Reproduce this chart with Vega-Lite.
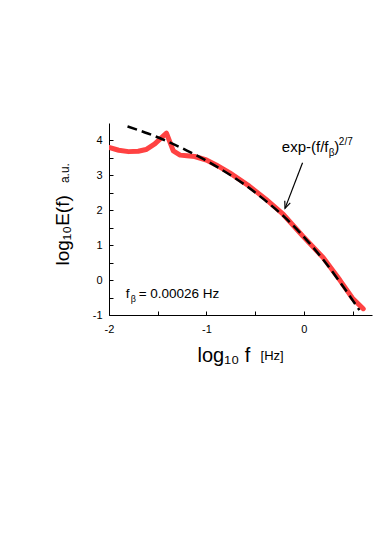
{
  "$schema": "https://vega.github.io/schema/vega-lite/v6.json",
  "width": 263,
  "height": 192,
  "autosize": "none",
  "padding": {"left": 109, "top": 123, "right": 14, "bottom": 239},
  "background": "white",
  "config": {
    "font": "Liberation Sans",
    "view": {"stroke": null},
    "axis": {
      "grid": false,
      "domainColor": "black",
      "domainWidth": 1,
      "tickColor": "black",
      "tickWidth": 1,
      "tickSize": -4,
      "labelColor": "black",
      "labelFontSize": 11,
      "labelFont": "Liberation Sans",
      "labelOverlap": false,
      "labelFlush": false,
      "titleColor": "black",
      "titleFont": "Liberation Sans",
      "titleFontWeight": "normal"
    }
  },
  "datasets": {
    "spectrum": [
      {"x": -2.0, "y": 3.80},
      {"x": -1.9, "y": 3.72},
      {"x": -1.8, "y": 3.68},
      {"x": -1.7, "y": 3.69},
      {"x": -1.62, "y": 3.74},
      {"x": -1.53, "y": 3.90},
      {"x": -1.41, "y": 4.21},
      {"x": -1.34, "y": 3.70},
      {"x": -1.27, "y": 3.58},
      {"x": -1.2, "y": 3.56},
      {"x": -1.12, "y": 3.54},
      {"x": -1.0, "y": 3.44},
      {"x": -0.9, "y": 3.30},
      {"x": -0.76, "y": 3.07},
      {"x": -0.56, "y": 2.69},
      {"x": -0.39, "y": 2.32},
      {"x": -0.21, "y": 1.88},
      {"x": -0.01, "y": 1.26},
      {"x": 0.2, "y": 0.64},
      {"x": 0.37, "y": 0.0},
      {"x": 0.5, "y": -0.52},
      {"x": 0.61, "y": -0.82}
    ],
    "fit": [
      {"x": -1.81, "y": 4.40},
      {"x": -1.6, "y": 4.20},
      {"x": -1.4, "y": 3.97},
      {"x": -1.2, "y": 3.71},
      {"x": -1.0, "y": 3.42},
      {"x": -0.8, "y": 3.09},
      {"x": -0.6, "y": 2.72},
      {"x": -0.4, "y": 2.29},
      {"x": -0.2, "y": 1.81},
      {"x": 0.0, "y": 1.24},
      {"x": 0.2, "y": 0.58},
      {"x": 0.4, "y": -0.17},
      {"x": 0.57, "y": -0.86}
    ]
  },
  "encoding": {
    "x": {
      "field": "x", "type": "quantitative",
      "scale": {"domain": [-2, 0.7], "nice": false, "zero": false},
      "axis": {
        "values": [-2, -1.5, -1, -0.5, 0, 0.5],
        "labelExpr": "datum.value % 1 === 0 ? (datum.value < 0 ? '-' : '') + abs(datum.value) : ''",
        "labelOverlap": false,
        "labelPadding": 12,
        "title": "log₁₀ f",
        "titleFontSize": 20,
        "titleAlign": "left",
        "titleBaseline": "alphabetic",
        "titleAnchor": "start",
        "titleX": 88,
        "titleY": 46
      }
    },
    "y": {
      "field": "y", "type": "quantitative",
      "scale": {"domain": [-1, 4.5], "nice": false, "zero": false},
      "axis": {
        "values": [-1, -0.5, 0, 0.5, 1, 1.5, 2, 2.5, 3, 3.5, 4],
        "labelExpr": "datum.value % 1 === 0 ? (datum.value < 0 ? '-' : '') + abs(datum.value) : ''",
        "labelOverlap": false,
        "labelPadding": 11,
        "title": "log₁₀E(f)",
        "titleFontSize": 19,
        "titleAngle": 270,
        "titleAlign": "left",
        "titleBaseline": "alphabetic",
        "titleAnchor": "start",
        "titleX": -41,
        "titleY": 142
      }
    }
  },
  "layer": [
    {
      "data": {"name": "spectrum"},
      "mark": {"type": "line", "color": "#ff4242", "strokeWidth": 5, "strokeCap": "round", "strokeJoin": "round", "clip": true}
    },
    {
      "data": {"name": "fit"},
      "mark": {"type": "line", "color": "black", "strokeWidth": 2.5, "strokeDash": [10, 5], "interpolate": "monotone"}
    },
    {
      "data": {"values": [{"x": -0.013, "y": 3.36, "x2": -0.193, "y2": 2.055}]},
      "mark": {"type": "rule", "color": "black", "strokeWidth": 1.2},
      "encoding": {
        "x2": {"field": "x2"},
        "y2": {"field": "y2"}
      }
    },
    {
      "data": {"values": [{"x": -0.193, "y": 2.055}]},
      "mark": {"type": "point", "shape": "M-0.42,-1L0,0L0.42,-1", "filled": false, "stroke": "black", "strokeWidth": 1.2, "size": 196, "angle": 21, "opacity": 1}
    },
    {
      "data": {"values": [{"x": -0.2256, "y": 3.667, "label": "exp-(f/f"}]},
      "mark": {"type": "text", "fontSize": 15, "align": "left", "baseline": "alphabetic", "color": "black"},
      "encoding": {"text": {"field": "label"}}
    },
    {
      "data": {"values": [{"x": -0.2256, "y": 3.667, "label": "β"}]},
      "mark": {"type": "text", "fontSize": 10, "align": "left", "baseline": "alphabetic", "color": "black", "dx": 47, "dy": 3.5},
      "encoding": {"text": {"field": "label"}}
    },
    {
      "data": {"values": [{"x": -0.2256, "y": 3.667, "label": ")"}]},
      "mark": {"type": "text", "fontSize": 15, "align": "left", "baseline": "alphabetic", "color": "black", "dx": 52.5},
      "encoding": {"text": {"field": "label"}}
    },
    {
      "data": {"values": [{"x": -0.2256, "y": 3.667, "label": "2/7"}]},
      "mark": {"type": "text", "fontSize": 10, "align": "left", "baseline": "alphabetic", "color": "black", "dx": 57, "dy": -7},
      "encoding": {"text": {"field": "label"}}
    },
    {
      "data": {"values": [{"x": -1.829, "y": -0.521, "label": "f"}]},
      "mark": {"type": "text", "fontSize": 13.5, "align": "left", "baseline": "alphabetic", "color": "black"},
      "encoding": {"text": {"field": "label"}}
    },
    {
      "data": {"values": [{"x": -1.829, "y": -0.521, "label": "β"}]},
      "mark": {"type": "text", "fontSize": 9, "align": "left", "baseline": "alphabetic", "color": "black", "dx": 5, "dy": 4},
      "encoding": {"text": {"field": "label"}}
    },
    {
      "data": {"values": [{"x": -1.829, "y": -0.521, "label": "= 0.00026 Hz"}]},
      "mark": {"type": "text", "fontSize": 13.5, "align": "left", "baseline": "alphabetic", "color": "black", "dx": 13},
      "encoding": {"text": {"field": "label"}}
    },
    {
      "data": {"values": [{"x": -2.41, "y": 2.778, "label": "a.u."}]},
      "mark": {"type": "text", "fontSize": 12, "align": "left", "baseline": "alphabetic", "color": "black", "angle": 270},
      "encoding": {"text": {"field": "label"}}
    },
    {
      "data": {"values": [{"x": -0.444, "y": -2.291, "label": "[Hz]"}]},
      "mark": {"type": "text", "fontSize": 13, "align": "left", "baseline": "alphabetic", "color": "black"},
      "encoding": {"text": {"field": "label"}}
    }
  ]
}
